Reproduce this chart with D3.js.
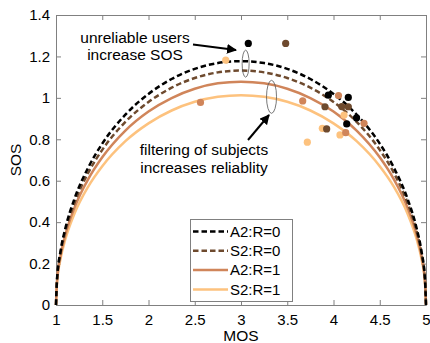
<!DOCTYPE html>
<html>
<head>
<meta charset="utf-8">
<script src="https://cdn.jsdelivr.net/npm/d3@7"></script>
<style>
  body { margin: 0; background: #fff; }
  svg { display: block; font-family: Arial, "Liberation Sans", sans-serif; }
</style>
</head>
<body>
<div id="chart"></div>
<script>
// MOS positions where the curves were read
const mosGrid = [1, 1.01, 1.05, 1.1, 1.2, 1.35, 1.5, 1.75, 2, 2.25, 2.5, 2.75, 3,
  3.25, 3.5, 3.75, 4, 4.25, 4.5, 4.65, 4.8, 4.9, 4.95, 4.99, 5];

const sosA2R0 = [0, 0.118, 0.262, 0.368, 0.513, 0.665, 0.779, 0.919, 1.019, 1.091, 1.140, 1.168, 1.177,
  1.168, 1.140, 1.091, 1.019, 0.919, 0.779, 0.665, 0.513, 0.368, 0.262, 0.118, 0];
const sosS2R0 = [0, 0.113, 0.252, 0.354, 0.493, 0.640, 0.749, 0.884, 0.980, 1.049, 1.096, 1.123, 1.132,
  1.123, 1.096, 1.049, 0.980, 0.884, 0.749, 0.640, 0.493, 0.354, 0.252, 0.113, 0];
const sosA2R1 = [0, 0.108, 0.240, 0.337, 0.470, 0.609, 0.713, 0.842, 0.934, 0.999, 1.044, 1.070, 1.078,
  1.070, 1.044, 0.999, 0.934, 0.842, 0.713, 0.609, 0.470, 0.337, 0.240, 0.108, 0];
const sosS2R1 = [0, 0.101, 0.225, 0.316, 0.442, 0.573, 0.670, 0.791, 0.877, 0.939, 0.981, 1.005, 1.013,
  1.005, 0.981, 0.939, 0.877, 0.791, 0.670, 0.573, 0.442, 0.316, 0.225, 0.101, 0];

const seriesNames = ['A2:R=0', 'S2:R=0', 'A2:R=1', 'S2:R=1'];

// measured points, one group per series
const ptsA2R0 = [[3.079, 1.263], [3.944, 1.013], [4.160, 1.002], [4.249, 0.903], [4.143, 0.874]];
const ptsS2R0 = [[3.483, 1.263], [3.908, 0.957], [4.089, 0.958], [4.160, 0.957], [3.926, 0.850]];
const ptsA2R1 = [[2.562, 0.978], [3.667, 0.985], [4.054, 1.011], [4.330, 0.877], [4.132, 0.832]];
const ptsS2R1 = [[2.835, 1.182], [4.114, 0.917], [3.879, 0.853], [4.070, 0.821], [3.717, 0.786]];

const xTicks = [1, 1.5, 2, 2.5, 3, 3.5, 4, 4.5, 5];
const yTicks = [0, 0.2, 0.4, 0.6, 0.8, 1, 1.2, 1.4];

const colors = ['#000000', '#6e4a2e', '#d0855a', '#fdc27e'];
const dashes = ['5.5,3', '5.5,3', null, null];

const W = 430, H = 343;
const m = { left: 56, right: 4, top: 15, bottom: 38 };

const svg = d3.select('#chart').append('svg')
  .attr('width', W)
  .attr('height', H);

const x = d3.scaleLinear().domain([1, 5]).range([m.left, W - m.right]);
const y = d3.scaleLinear().domain([0, 1.4]).range([H - m.bottom, m.top]);

const axisColor = '#808080';

// axes (ticks inside, mirrored on top/right)
const styleAxis = g => {
  g.select('.domain').attr('stroke', axisColor);
  g.selectAll('.tick line').attr('stroke', axisColor);
  g.selectAll('.tick text').attr('fill', '#000').style('font-size', '15px');
};

svg.append('g')
  .attr('transform', `translate(0,${y(0)})`)
  .call(d3.axisBottom(x).tickValues(xTicks).tickSizeInner(-5).tickSizeOuter(0).tickPadding(9).tickFormat(d3.format('')))
  .call(styleAxis);
svg.append('g')
  .attr('transform', `translate(${x(1)},0)`)
  .call(d3.axisLeft(y).tickValues(yTicks).tickSizeInner(-5).tickSizeOuter(0).tickPadding(6).tickFormat(d3.format('')))
  .call(styleAxis);
svg.append('g')
  .attr('transform', `translate(0,${y(1.4)})`)
  .call(d3.axisTop(x).tickValues(xTicks).tickSizeInner(-5).tickSizeOuter(0).tickFormat(''))
  .call(styleAxis);
svg.append('g')
  .attr('transform', `translate(${x(5)},0)`)
  .call(d3.axisRight(y).tickValues(yTicks).tickSizeInner(-5).tickSizeOuter(0).tickFormat(''))
  .call(styleAxis);

// axis labels
svg.append('text')
  .attr('x', (x(1) + x(5)) / 2)
  .attr('y', H - 2)
  .attr('text-anchor', 'middle')
  .style('font-size', '15.5px')
  .text('MOS');
svg.append('text')
  .attr('transform', `translate(21,${(y(0) + y(1.4)) / 2}) rotate(-90)`)
  .attr('text-anchor', 'middle')
  .style('font-size', '15.5px')
  .text('SOS');

// curves
const curves = [sosA2R0, sosS2R0, sosA2R1, sosS2R1];
const line = d3.line()
  .x(d => x(d[0]))
  .y(d => y(d[1]))
  .curve(d3.curveMonotoneX);

// draw back to front so the black curve stays on top
for (let i = curves.length - 1; i >= 0; i--) {
  svg.append('path')
    .datum(mosGrid.map((v, j) => [v, curves[i][j]]))
    .attr('d', line)
    .attr('fill', 'none')
    .attr('stroke', colors[i])
    .attr('stroke-width', 2.5)
    .attr('stroke-dasharray', dashes[i]);
}

// points
const points = [ptsA2R0, ptsS2R0, ptsA2R1, ptsS2R1];
for (let i = points.length - 1; i >= 0; i--) {
  svg.append('g').selectAll('circle')
    .data(points[i])
    .join('circle')
    .attr('cx', d => x(d[0]))
    .attr('cy', d => y(d[1]))
    .attr('r', 3.6)
    .attr('fill', colors[i]);
}

// arrow marker
svg.append('defs').append('marker')
  .attr('id', 'head')
  .attr('viewBox', '0 0 10 10')
  .attr('refX', 9).attr('refY', 5)
  .attr('markerWidth', 5).attr('markerHeight', 5)
  .attr('markerUnits', 'strokeWidth')
  .attr('orient', 'auto')
  .append('path')
  .attr('d', 'M0,0L10,5L0,10z')
  .attr('fill', '#000');

// annotation 1
svg.append('ellipse')
  .attr('cx', x(3.05)).attr('cy', y(1.165))
  .attr('rx', 3.5).attr('ry', 13.5)
  .attr('fill', 'none').attr('stroke', '#555').attr('stroke-width', 0.8);
svg.append('line')
  .attr('x1', 193).attr('y1', 44.5)
  .attr('x2', 236).attr('y2', 50)
  .attr('stroke', '#000').attr('stroke-width', 2)
  .attr('marker-end', 'url(#head)');
svg.append('text')
  .attr('x', 135).attr('y', 42.5)
  .attr('text-anchor', 'middle').style('font-size', '15.5px')
  .text('unreliable users');
svg.append('text')
  .attr('x', 135).attr('y', 60)
  .attr('text-anchor', 'middle').style('font-size', '15.5px')
  .text('increase SOS');

// annotation 2
svg.append('ellipse')
  .attr('cx', x(3.33)).attr('cy', y(1.005))
  .attr('rx', 5).attr('ry', 16.5)
  .attr('fill', 'none').attr('stroke', '#555').attr('stroke-width', 0.8);
svg.append('line')
  .attr('x1', 248).attr('y1', 140)
  .attr('x2', 269).attr('y2', 115)
  .attr('stroke', '#000').attr('stroke-width', 2)
  .attr('marker-end', 'url(#head)');
svg.append('text')
  .attr('x', 204).attr('y', 155)
  .attr('text-anchor', 'middle').style('font-size', '15.5px')
  .text('filtering of subjects');
svg.append('text')
  .attr('x', 204).attr('y', 172.5)
  .attr('text-anchor', 'middle').style('font-size', '15.5px')
  .text('increases reliablity');

// legend
const lg = svg.append('g');
lg.append('rect')
  .attr('x', 190.5).attr('y', 219.5)
  .attr('width', 102).attr('height', 82)
  .attr('fill', '#fff').attr('stroke', axisColor).attr('stroke-width', 1);
seriesNames.forEach((name, i) => {
  const ly = 231.5 + i * 19.3;
  lg.append('line')
    .attr('x1', 193).attr('x2', 228)
    .attr('y1', ly).attr('y2', ly)
    .attr('stroke', colors[i])
    .attr('stroke-width', 2.5)
    .attr('stroke-dasharray', dashes[i]);
  lg.append('text')
    .attr('x', 230).attr('y', ly)
    .attr('dy', '0.35em')
    .style('font-size', '15px')
    .text(name);
});
</script>
</body>
</html>
